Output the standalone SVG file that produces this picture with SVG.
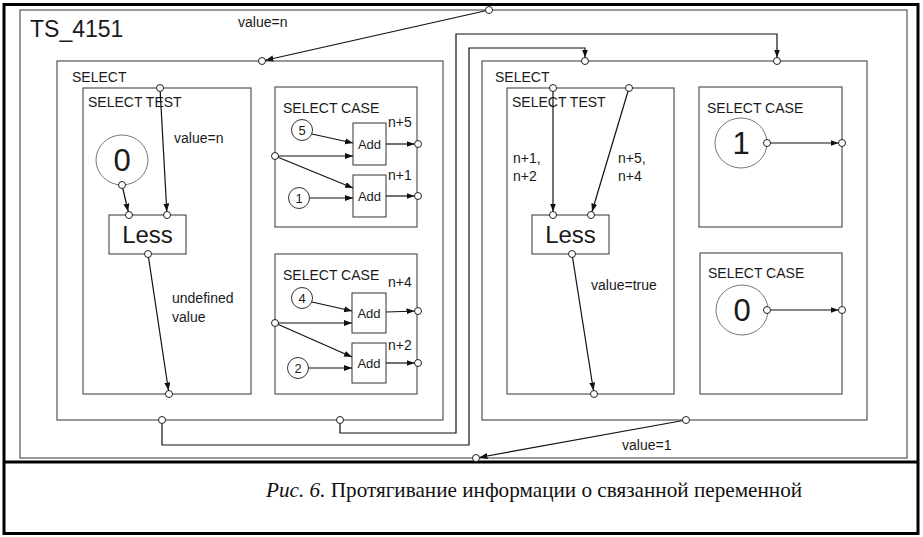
<svg xmlns="http://www.w3.org/2000/svg" width="923" height="537" viewBox="0 0 923 537">
<style>
  .frame { fill: none; stroke: #000; stroke-width: 3; }
  .box { fill: none; stroke: #555; stroke-width: 1.2; }
  .blk { fill: #fff; stroke: #333; stroke-width: 1; }
  .wire { fill: none; stroke: #111; stroke-width: 1.2; }
  .port { fill: #fff; stroke: #222; stroke-width: 1; }
  .lbl { font-family: "Liberation Sans", Arial, sans-serif; font-size: 14px; fill: #1a1a1a; }
  .num { font-family: "Liberation Sans", Arial, sans-serif; font-size: 13px; fill: #1a1a1a; text-anchor: middle; }
  .big { font-family: "Liberation Sans", Arial, sans-serif; font-size: 31px; fill: #1a1a1a; text-anchor: middle; }
  .less { font-family: "Liberation Sans", Arial, sans-serif; font-size: 24px; fill: #1a1a1a; text-anchor: middle; }
  .cap { font-family: "Liberation Serif", "Times New Roman", serif; font-size: 21.2px; fill: #111; }
</style>
<defs>
  <!-- arrow whose tip stops at the edge of a port circle -->
  <marker id="toPort" markerUnits="userSpaceOnUse" markerWidth="12" markerHeight="8" refX="11.5" refY="3" orient="auto">
    <path d="M0,0 L8,3 L0,6 z" fill="#111"/>
  </marker>
  <!-- arrow whose tip touches a block edge -->
  <marker id="toEdge" markerUnits="userSpaceOnUse" markerWidth="9" markerHeight="8" refX="8" refY="3" orient="auto">
    <path d="M0,0 L8,3 L0,6 z" fill="#111"/>
  </marker>
</defs>

<rect width="923" height="537" fill="#fff"/>

<!-- page frame and caption divider -->
<rect class="frame" x="4" y="4.5" width="914" height="529"/>
<line class="frame" x1="4" y1="462" x2="918" y2="462"/>

<g id="ts_4151">
  <rect class="box" x="20" y="10" width="887" height="448"/>
  <text class="lbl" x="30" y="37" style="font-size:23px">TS_4151</text>
</g>

<!-- left SELECT -->
<g id="select_left">
  <rect class="box" x="57" y="61" width="386" height="359"/>
  <text class="lbl" x="72" y="82">SELECT</text>
</g>
<g id="select_test_left">
  <rect class="box" x="83" y="88" width="168" height="306"/>
  <text class="lbl" x="88" y="107">SELECT TEST</text>
</g>
<g id="const0_left">
  <ellipse class="box" cx="122" cy="160" rx="26" ry="25" style="stroke-width:0.8"/>
  <text class="big" x="122" y="171">0</text>
</g>
<g id="less_left">
  <rect class="blk" x="109" y="215" width="77" height="39"/>
  <text class="less" x="147.5" y="243">Less</text>
</g>

<g id="select_case_a">
  <rect class="box" x="275" y="87" width="142" height="140"/>
  <text class="lbl" x="283" y="113">SELECT CASE</text>
</g>
<g id="const5"><circle class="blk" cx="302" cy="130" r="10.5"/><text class="num" x="302" y="135">5</text></g>
<g id="const1"><circle class="blk" cx="299" cy="198" r="10.5"/><text class="num" x="299" y="203">1</text></g>
<g id="add_a1"><rect class="blk" x="353" y="123" width="33" height="42"/><text class="num" x="369.5" y="148.5">Add</text></g>
<g id="add_a2"><rect class="blk" x="353" y="175" width="33" height="42"/><text class="num" x="369.5" y="200.5">Add</text></g>

<g id="select_case_b">
  <rect class="box" x="275" y="254" width="142" height="140"/>
  <text class="lbl" x="283" y="280">SELECT CASE</text>
</g>
<g id="const4"><circle class="blk" cx="302" cy="298" r="10.5"/><text class="num" x="302" y="303">4</text></g>
<g id="const2"><circle class="blk" cx="298" cy="368" r="10.5"/><text class="num" x="298" y="373">2</text></g>
<g id="add_b1"><rect class="blk" x="352" y="293" width="34" height="40"/><text class="num" x="369" y="317.5">Add</text></g>
<g id="add_b2"><rect class="blk" x="352" y="343" width="34" height="40"/><text class="num" x="369" y="367.5">Add</text></g>

<!-- right SELECT -->
<g id="select_right">
  <rect class="box" x="482" y="61" width="385" height="359"/>
  <text class="lbl" x="495" y="82">SELECT</text>
</g>
<g id="select_test_right">
  <rect class="box" x="507" y="88" width="167" height="306"/>
  <text class="lbl" x="512" y="107">SELECT TEST</text>
</g>
<g id="less_right">
  <rect class="blk" x="532" y="215" width="77" height="39"/>
  <text class="less" x="570.5" y="243">Less</text>
</g>
<g id="select_case_c">
  <rect class="box" x="699" y="87" width="143" height="140"/>
  <text class="lbl" x="707" y="113">SELECT CASE</text>
  <ellipse class="box" cx="741" cy="143" rx="26" ry="25" style="stroke-width:0.8"/>
  <text class="big" x="741" y="154">1</text>
</g>
<g id="select_case_d">
  <rect class="box" x="700" y="253" width="142" height="141"/>
  <text class="lbl" x="708" y="278">SELECT CASE</text>
  <ellipse class="box" cx="742" cy="310" rx="26" ry="25" style="stroke-width:0.8"/>
  <text class="big" x="742" y="321">0</text>
</g>

<!-- connectors -->
<g id="connectors">
  <line class="wire" x1="489" y1="10" x2="262" y2="61" marker-end="url(#toPort)"/>
  <line class="wire" x1="160" y1="88" x2="167" y2="215" marker-end="url(#toPort)"/>
  <line class="wire" x1="122" y1="185" x2="129" y2="215" marker-end="url(#toPort)"/>
  <line class="wire" x1="148" y1="254" x2="169" y2="394" marker-end="url(#toPort)"/>

  <line class="wire" x1="312" y1="134" x2="353" y2="143" marker-end="url(#toEdge)"/>
  <line class="wire" x1="275" y1="156" x2="353" y2="156" marker-end="url(#toEdge)"/>
  <line class="wire" x1="275" y1="156" x2="353" y2="188" marker-end="url(#toEdge)"/>
  <line class="wire" x1="309.5" y1="198" x2="353" y2="198" marker-end="url(#toEdge)"/>
  <line class="wire" x1="386" y1="144" x2="418" y2="144" marker-end="url(#toPort)"/>
  <line class="wire" x1="386" y1="196" x2="418" y2="196" marker-end="url(#toPort)"/>

  <line class="wire" x1="312" y1="302" x2="352" y2="311" marker-end="url(#toEdge)"/>
  <line class="wire" x1="275" y1="323" x2="352" y2="323" marker-end="url(#toEdge)"/>
  <line class="wire" x1="275" y1="323" x2="352" y2="357" marker-end="url(#toEdge)"/>
  <line class="wire" x1="308.5" y1="368" x2="352" y2="368" marker-end="url(#toEdge)"/>
  <line class="wire" x1="386" y1="312" x2="418" y2="311" marker-end="url(#toPort)"/>
  <line class="wire" x1="386" y1="363" x2="418" y2="363" marker-end="url(#toPort)"/>

  <line class="wire" x1="553" y1="88" x2="553" y2="215" marker-end="url(#toPort)"/>
  <line class="wire" x1="629" y1="88" x2="591" y2="215" marker-end="url(#toPort)"/>
  <line class="wire" x1="572" y1="254" x2="594" y2="394" marker-end="url(#toPort)"/>
  <line class="wire" x1="767" y1="143" x2="842" y2="143" marker-end="url(#toPort)"/>
  <line class="wire" x1="767" y1="310" x2="842" y2="310" marker-end="url(#toPort)"/>
  <line class="wire" x1="686" y1="420" x2="476" y2="458" marker-end="url(#toPort)"/>

  <polyline class="wire" points="162,420 162,445 469,445 469,48 585,48 585,61" marker-end="url(#toPort)"/>
  <polyline class="wire" points="340,420 340,433 456,433 456,34 777,34 777,61" marker-end="url(#toPort)"/>
</g>

<!-- ports -->
<g id="ports">
  <circle class="port" cx="489" cy="10" r="3.5"/>
  <circle class="port" cx="262" cy="61" r="3.5"/>
  <circle class="port" cx="160" cy="88" r="3.5"/>
  <circle class="port" cx="122" cy="185" r="3.5"/>
  <circle class="port" cx="129" cy="215" r="3.5"/>
  <circle class="port" cx="167" cy="215" r="3.5"/>
  <circle class="port" cx="148" cy="254" r="3.5"/>
  <circle class="port" cx="169" cy="394" r="3.5"/>
  <circle class="port" cx="162" cy="420" r="3.5"/>
  <circle class="port" cx="340" cy="420" r="3.5"/>
  <circle class="port" cx="275" cy="156" r="3.5"/>
  <circle class="port" cx="418" cy="144" r="3.5"/>
  <circle class="port" cx="418" cy="196" r="3.5"/>
  <circle class="port" cx="275" cy="323" r="3.5"/>
  <circle class="port" cx="418" cy="311" r="3.5"/>
  <circle class="port" cx="418" cy="363" r="3.5"/>
  <circle class="port" cx="585" cy="61" r="3.5"/>
  <circle class="port" cx="777" cy="61" r="3.5"/>
  <circle class="port" cx="553" cy="88" r="3.5"/>
  <circle class="port" cx="629" cy="88" r="3.5"/>
  <circle class="port" cx="553" cy="215" r="3.5"/>
  <circle class="port" cx="591" cy="215" r="3.5"/>
  <circle class="port" cx="572" cy="254" r="3.5"/>
  <circle class="port" cx="594" cy="394" r="3.5"/>
  <circle class="port" cx="767" cy="143" r="3.5"/>
  <circle class="port" cx="842" cy="143" r="3.5"/>
  <circle class="port" cx="767" cy="310" r="3.5"/>
  <circle class="port" cx="842" cy="310" r="3.5"/>
  <circle class="port" cx="686" cy="420" r="3.5"/>
  <circle class="port" cx="476" cy="458" r="3.5"/>
</g>

<!-- connector labels -->
<g id="labels">
  <text class="lbl" x="238" y="27">value=n</text>
  <text class="lbl" x="174" y="143">value=n</text>
  <text class="lbl" x="172" y="303">undefined</text>
  <text class="lbl" x="172" y="322">value</text>
  <text class="lbl" x="388" y="127">n+5</text>
  <text class="lbl" x="388" y="180">n+1</text>
  <text class="lbl" x="388" y="287">n+4</text>
  <text class="lbl" x="388" y="350">n+2</text>
  <text class="lbl" x="513" y="163">n+1,</text>
  <text class="lbl" x="513" y="181">n+2</text>
  <text class="lbl" x="618" y="163">n+5,</text>
  <text class="lbl" x="618" y="181">n+4</text>
  <text class="lbl" x="591" y="290">value=true</text>
  <text class="lbl" x="622" y="450">value=1</text>
</g>

<g id="caption">
  <text class="cap" x="266" y="497"><tspan font-style="italic">Рис. 6.</tspan> Протягивание информации о связанной переменной</text>
</g>
</svg>
